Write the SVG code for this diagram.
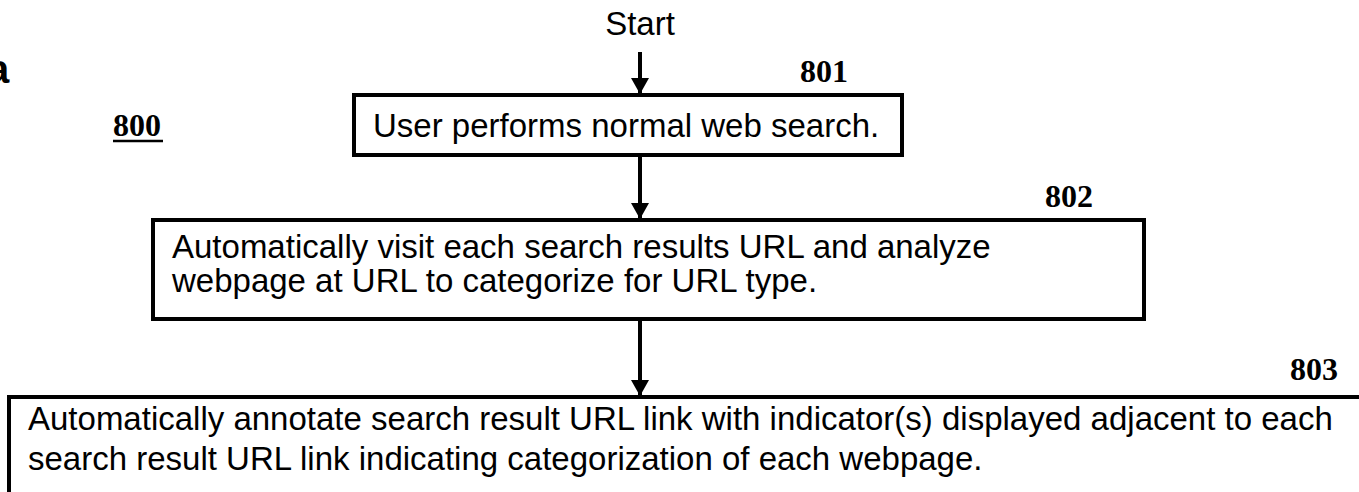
<svg xmlns="http://www.w3.org/2000/svg" width="1359" height="492" viewBox="0 0 1359 492">
  <style>
    .box { fill: #fff; stroke: #000; stroke-width: 4; }
    .txt { font-family: "Liberation Sans", Arial, sans-serif; font-size: 33px; fill: #000; }
    .ref { font-family: "Liberation Serif", "Times New Roman", serif; font-weight: bold; font-size: 32px; fill: #000; }
    .flow { stroke: #000; stroke-width: 4; fill: none; marker-end: url(#head); }
  </style>
  <defs>
    <!-- solid triangular arrowhead, drawn along +x so orient="auto" points it down the line -->
    <marker id="head" viewBox="0 0 16 18" refX="15" refY="9" markerWidth="16" markerHeight="18" markerUnits="userSpaceOnUse" orient="auto">
      <path d="M0 0 L16 9 L0 18 Z" fill="#000"/>
    </marker>
  </defs>

  <!-- figure caption fragment and figure number -->
  <text x="-13" y="83" font-family="Liberation Sans, Arial, sans-serif" font-weight="bold" font-size="40">a</text>
  <g id="fig-800">
    <text class="ref" x="113" y="136">800</text>
    <line x1="113" y1="141" x2="163" y2="141" stroke="#000" stroke-width="2.5"/>
  </g>

  <!-- start label -->
  <g id="start">
    <text class="txt" x="640" y="35" text-anchor="middle">Start</text>
  </g>

  <!-- step 801 -->
  <g id="step-801">
    <rect class="box" x="354" y="95" width="548" height="60"/>
    <text class="txt" x="373" y="137">User performs normal web search.</text>
    <text class="ref" x="800" y="82">801</text>
  </g>

  <!-- step 802 -->
  <g id="step-802">
    <rect class="box" x="153" y="220" width="991" height="99"/>
    <text class="txt" x="172" y="258">Automatically visit each search results URL and analyze</text>
    <text class="txt" x="172" y="292">webpage at URL to categorize for URL type.</text>
    <text class="ref" x="1045" y="207">802</text>
  </g>

  <!-- step 803 (runs past the right and bottom edges) -->
  <g id="step-803">
    <rect class="box" x="9" y="397" width="1400" height="150"/>
    <text class="txt" x="28" y="430">Automatically annotate search result URL link with indicator(s) displayed adjacent to each</text>
    <text class="txt" x="28" y="470">search result URL link indicating categorization of each webpage.</text>
    <text class="ref" x="1290" y="380">803</text>
  </g>

  <!-- connectors -->
  <g id="connectors">
    <line class="flow" x1="640" y1="52" x2="640" y2="93"/>
    <line class="flow" x1="640" y1="157" x2="640" y2="218"/>
    <line class="flow" x1="640" y1="321" x2="640" y2="395"/>
  </g>
</svg>
